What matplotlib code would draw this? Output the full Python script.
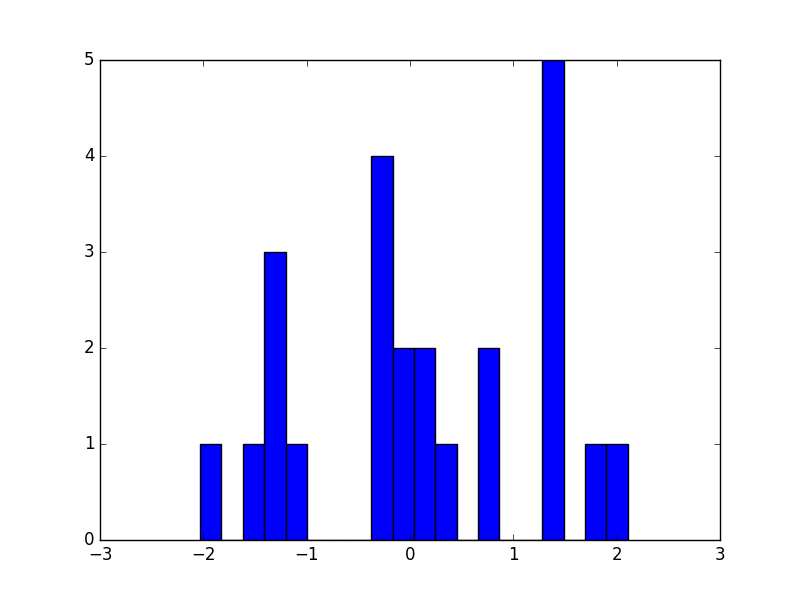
''' Matplotlib histogram, classic look '''
import numpy as np
import matplotlib
matplotlib.use('Agg')
import matplotlib.pyplot as plt

plt.style.use('classic')

# data: 20 equal bins between the sample min and max
bin_lo = -2.032
bin_hi = 2.108
n_bins = 20
counts = [1, 0, 1, 3, 1, 0, 0, 0, 4, 2, 2, 1, 0, 2, 0, 0, 5, 0, 1, 1]

edges = np.linspace(bin_lo, bin_hi, n_bins + 1)
centers = (edges[:-1] + edges[1:]) / 2

fig, ax = plt.subplots(figsize=(8, 6), dpi=100)

ax.hist(centers, bins=edges, weights=counts, color='b', edgecolor='black')

ax.set_xlim(-3, 3)
ax.set_ylim(0, 5)

fig.savefig('out.png', dpi=100, facecolor='white')
